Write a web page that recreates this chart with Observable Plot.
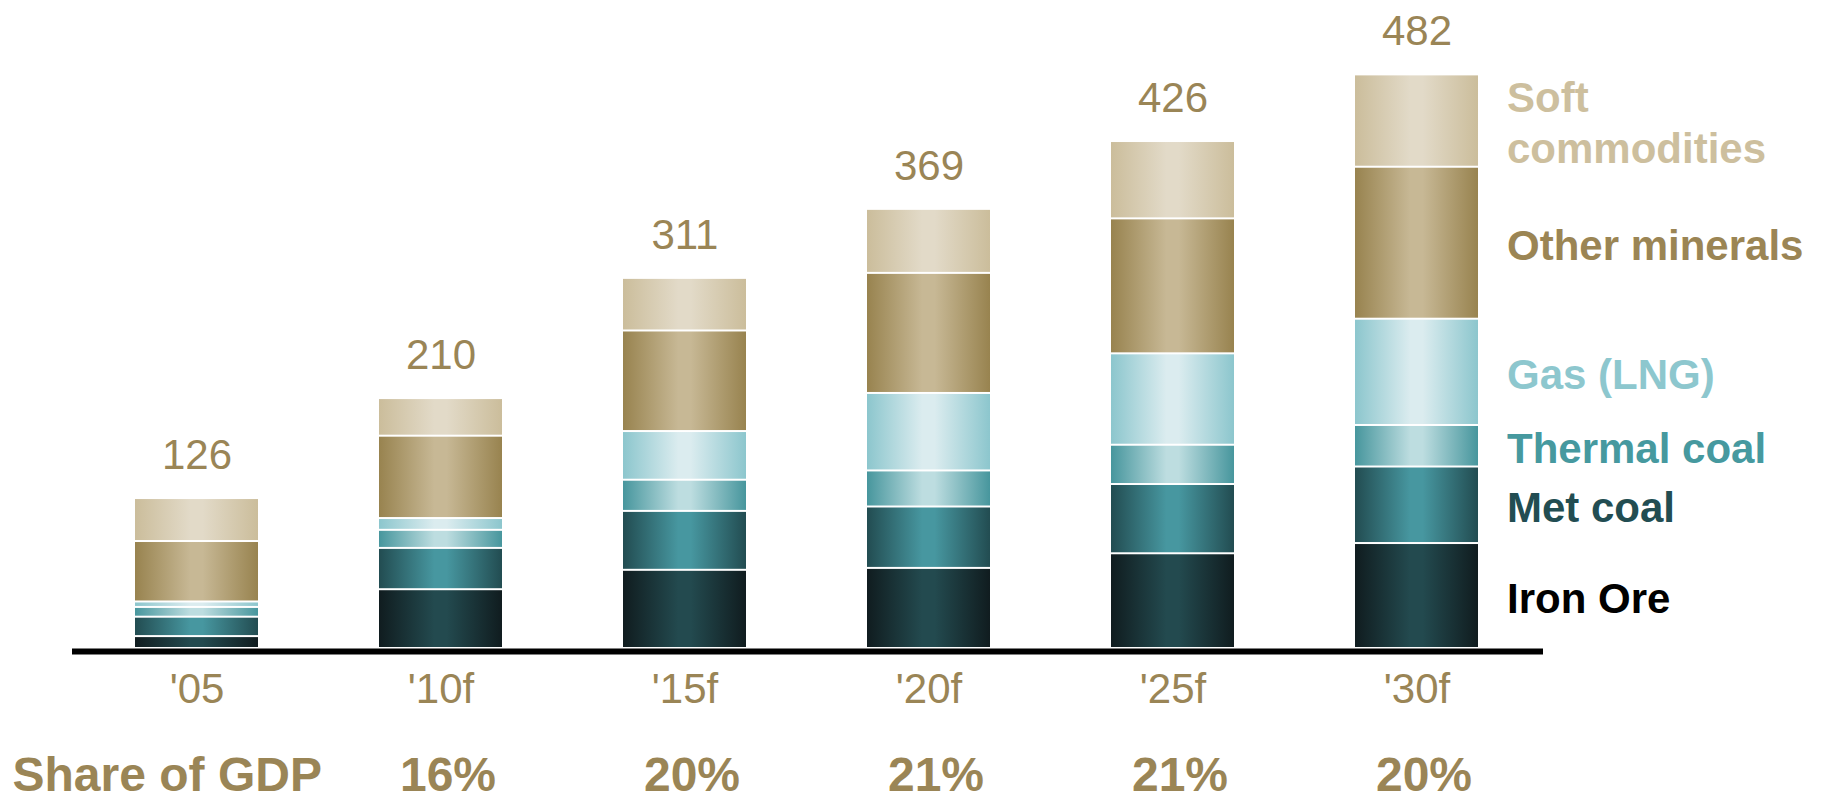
<!DOCTYPE html>
<html>
<head>
<meta charset="utf-8">
<script src="https://cdn.jsdelivr.net/npm/d3@7"></script>
<script src="https://cdn.jsdelivr.net/npm/@observablehq/plot@0.6"></script>
<style>
html, body { margin: 0; padding: 0; background: #ffffff; }
#chart svg { display: block; }
</style>
</head>
<body>
<div id="chart"></div>
<script>
// ---- data ----
const years = ["'05", "'10f", "'15f", "'20f", "'25f", "'30f"];
const totals = [126, 210, 311, 369, 426, 482];
const gdpShare = ["", "16%", "20%", "21%", "21%", "20%"];
const shareLabel = "Share of GDP";
const commodities = ["Iron Ore", "Met coal", "Thermal coal", "Gas (LNG)", "Other minerals", "Soft commodities"];
const legendLabels = ["Iron Ore", "Met coal", "Thermal coal", "Gas (LNG)", "Other minerals", "Soft\ncommodities"];
const ironOre = [10.0, 49.4, 65.7, 67.3, 79.6, 88.2];
const metCoal = [16.3, 34.7, 49.5, 51.6, 58.2, 64.3];
const thermalCoal = [8.2, 15.2, 26.2, 30.3, 33.0, 34.9];
const gasLNG = [4.6, 9.9, 40.9, 65.1, 76.8, 89.3];
const otherMinerals = [50.8, 69.2, 84.5, 100.9, 113.4, 127.7];
const softCommodities = [36.1, 31.6, 44.2, 53.8, 65.0, 77.6];

// ---- styles ----
const gold = "#9a8556";
const edgeColors = ["#101c1f", "#224c51", "#47969d", "#8cc6cd", "#98834f", "#cbbd9b"];
const centerColors = ["#234a4f", "#4797a0", "#bddde0", "#dbecef", "#c7b895", "#e2dac8"];
const labelColors = ["#000000", "#224d52", "#46999f", "#8dc7ce", "#9b8554", "#cdbf9e"];
const gradIds = commodities.map((c, i) => "grad" + i);

// ---- build rows ----
const series = [ironOre, metCoal, thermalCoal, gasLNG, otherMinerals, softCommodities];
const rows = [];
years.forEach((y, j) => {
  commodities.forEach((c, i) => rows.push({year: y, commodity: c, value: series[i][j]}));
});
const totalRows = years.map((y, j) => ({year: y, total: totals[j]}));
const shareRows = years.map((y, j) => ({year: y, share: gdpShare[j]}));

// legend: midpoint of each segment of the last bar
const last = years.length - 1;
let cum = 0;
const legendRows = commodities.map((c, i) => {
  const v = series[i][last];
  const mid = cum + v / 2;
  cum += v;
  return {year: years[last], mid, label: legendLabels[i], color: labelColors[i]};
});

function gradientDefs() {
  const defs = d3.create("svg:defs");
  commodities.forEach((c, i) => {
    const g = defs.append("linearGradient")
      .attr("id", gradIds[i])
      .attr("x1", "0").attr("x2", "1").attr("y1", "0").attr("y2", "0");
    [[0, edgeColors[i]], [0.45, centerColors[i]], [0.55, centerColors[i]], [1, edgeColors[i]]]
      .forEach(([o, col]) => g.append("stop").attr("offset", o).attr("stop-color", col));
  });
  return defs.node();
}

const font = "'Liberation Sans', Arial, Helvetica, sans-serif";

const chart = Plot.plot({
  width: 1830,
  height: 798,
  marginTop: 0,
  marginBottom: 150,
  marginLeft: 0,
  marginRight: 0,
  style: {fontFamily: font, background: "#ffffff", overflow: "visible"},
  x: {domain: years, range: [11.5, 1602.5], padding: 0.4939, label: null},
  y: {domain: [0, 544.5], range: [648, 0], axis: null},
  color: {type: "ordinal", domain: commodities, range: gradIds.map(id => `url(#${id})`)},
  marks: [
    gradientDefs,
    Plot.barY(rows, {x: "year", y: "value", fill: "commodity", order: commodities, insetTop: 1, insetBottom: 1}),
    Plot.ruleY([0], {stroke: "#000000", strokeWidth: 6, dy: 3, insetLeft: 72, insetRight: 287}),
    Plot.axisX({tickSize: 0, tickPadding: 25, fontSize: 42, fill: gold, fontFamily: font, label: null}),
    Plot.text(totalRows, {x: "year", y: "total", text: d => String(d.total), dy: -43, fontSize: 42, fill: gold}),
    Plot.text(shareRows, {x: "year", text: "share", frameAnchor: "bottom", dy: 142, dx: 7, fontSize: 48, fontWeight: "bold", fill: gold}),
    Plot.text([shareLabel], {text: d => d, frameAnchor: "bottom-left", textAnchor: "start", dx: 12, dy: 142, fontSize: 48, fontWeight: "bold", fill: gold}),
    ...legendRows.map(r => Plot.text([r], {x: "year", y: "mid", text: "label", textAnchor: "start", dx: 90, fontSize: 42, fontWeight: "bold", lineHeight: 1.23, fill: r.color}))
  ]
});

document.getElementById("chart").appendChild(chart);
</script>
</body>
</html>
